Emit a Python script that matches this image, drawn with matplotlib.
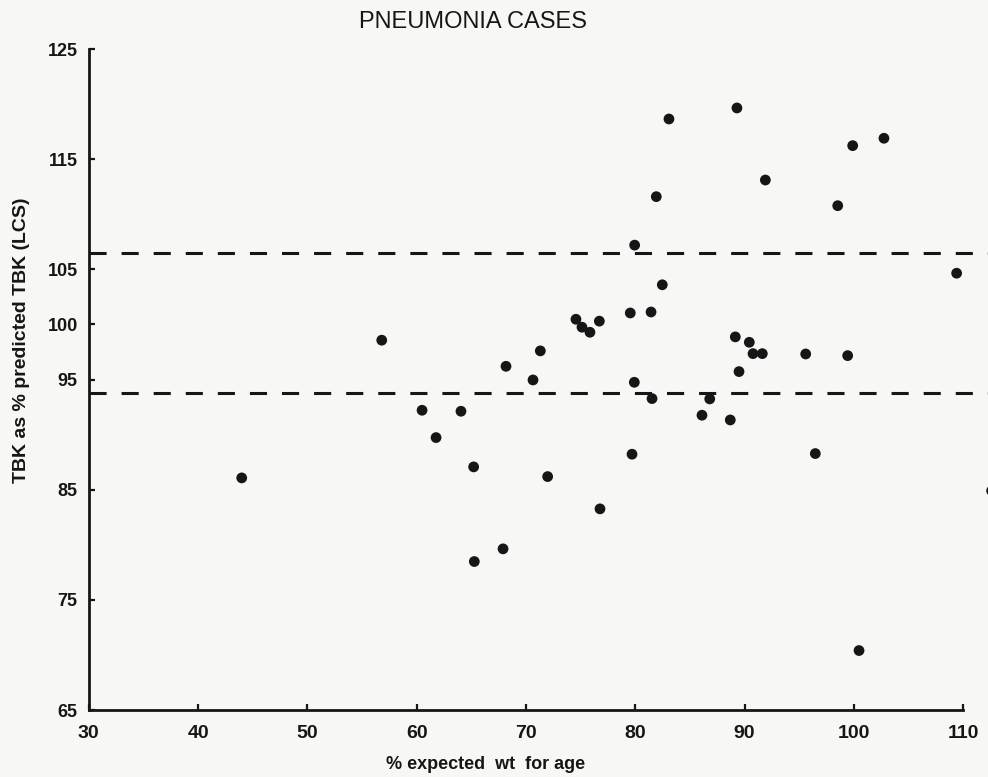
import matplotlib.pyplot as plt
import numpy as np

# % expected weight for age vs TBK as % predicted
wt_for_age = [43.99, 56.80, 60.49, 61.77, 64.05, 65.21, 65.27, 67.90, 68.17,
              70.64, 71.31, 71.98, 74.57, 75.12, 75.85, 76.71, 76.77, 79.54,
              79.70, 79.91, 79.94, 81.44, 81.53, 81.92, 82.47, 83.08, 86.10,
              86.81, 88.69, 89.15, 89.30, 89.49, 90.43, 90.77, 91.62, 91.90,
              95.59, 96.47, 98.52, 99.43, 99.89, 100.47, 102.75, 109.40, 112.6]
tbk_pct = [86.07, 98.57, 92.21, 89.73, 92.12, 87.07, 78.48, 79.63, 96.20,
           94.96, 97.60, 86.19, 100.47, 99.75, 99.29, 100.30, 83.26, 101.04,
           88.22, 94.75, 107.20, 101.13, 93.27, 111.60, 103.60, 118.65, 91.76,
           93.24, 91.33, 98.87, 119.65, 95.72, 98.38, 97.35, 97.35, 113.11,
           97.32, 88.28, 110.78, 97.17, 116.23, 70.40, 116.90, 104.65, 84.90]
ref_lines = [106.5, 93.8]

x_ticks = [30, 40, 50, 60, 70, 80, 90, 100, 110]
y_ticks = [65, 75, 85, 95, 100, 105, 115, 125]

INK = '#161616'
PAPER = '#f7f7f5'
plt.rcParams['font.family'] = ['Liberation Sans', 'DejaVu Sans']

fig = plt.figure(figsize=(9.88, 7.77), dpi=100, facecolor=PAPER)
ax = fig.add_axes([0.0899, 0.0862, 1 - 0.0899, 0.8507])
ax.set_facecolor(PAPER)

for yv in ref_lines:
    ax.axhline(yv, color=INK, lw=2.2, dashes=(5.6, 4.9), zorder=1)

ax.scatter(wt_for_age, tbk_pct, s=60, color=INK, edgecolors='none', zorder=3)

ax.set_xlim(30, 112.27)
ax.set_ylim(65, 125)
ax.spines['top'].set_visible(False)
ax.spines['right'].set_visible(False)
ax.spines['bottom'].set_bounds(30, 110)
for side in ('left', 'bottom'):
    ax.spines[side].set_linewidth(2.0)
    ax.spines[side].set_color(INK)

ax.set_xticks(x_ticks)
ax.set_yticks(y_ticks)
ax.tick_params(axis='both', direction='in', length=4, width=1.6, color=INK)
ax.tick_params(axis='x', pad=11, labelsize=14)
ax.tick_params(axis='y', pad=8, labelsize=13)
for lab in ax.get_xticklabels() + ax.get_yticklabels():
    lab.set_fontweight('bold')
    lab.set_color(INK)

fig.text(0.479, 0.972, 'PNEUMONIA CASES', ha='center', va='center',
         fontsize=17, color=INK)
fig.text(0.491, 0.016, '% expected  wt  for age', ha='center', va='center',
         fontsize=13, fontweight='bold', color=INK)
fig.text(0.022, 0.562, 'TBK as % predicted TBK (LCS)', ha='center', va='center',
         rotation=90, fontsize=14, fontweight='bold', color=INK)

fig.savefig('out.png', dpi=100, facecolor=PAPER)
